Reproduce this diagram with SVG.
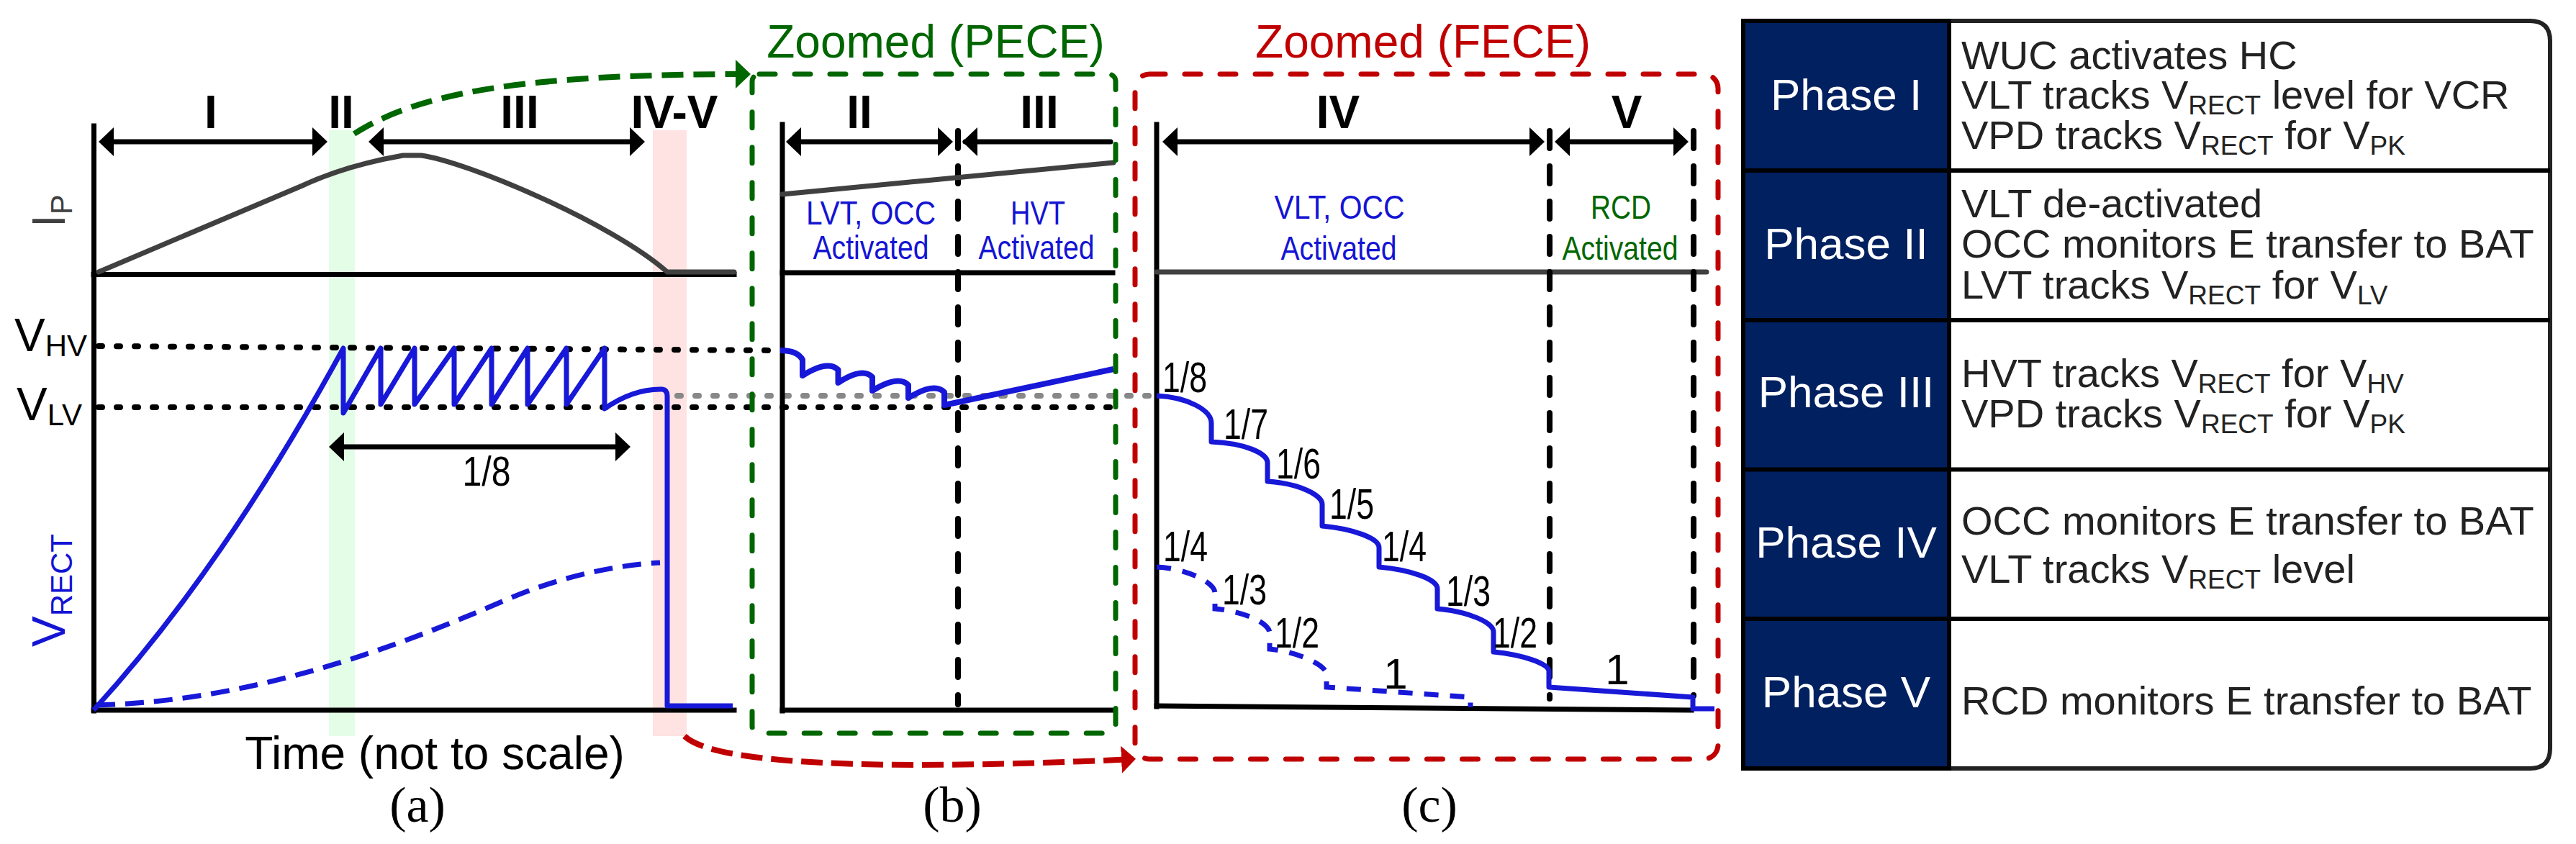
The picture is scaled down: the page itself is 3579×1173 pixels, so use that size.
<svg xmlns="http://www.w3.org/2000/svg" width="3579" height="1173" viewBox="0 0 3579 1173">
<style>
text{font-family:"Liberation Sans",Arial,sans-serif}
.ser{font-family:"Liberation Serif","Times New Roman",serif;font-size:70px;text-anchor:middle;fill:#000}
.ph{font-size:64px;font-weight:bold;text-anchor:middle;fill:#000}
.lab{font-size:64px;fill:#000}
.num{font-size:60px;fill:#000}
.act{font-size:46px;text-anchor:middle}
.blue{fill:#1414d4}
.grn{fill:#006600}
.axis{stroke:#000;stroke-width:7;fill:none;stroke-linecap:square}
.arr{stroke:#000;stroke-width:7;fill:none}
.dot{stroke:#000;stroke-width:8;stroke-dasharray:5 20;stroke-linecap:round;fill:none}
.gdot{stroke:#888;stroke-width:8;stroke-dasharray:5 20;stroke-linecap:round;fill:none}
.vdash{stroke:#000;stroke-width:8;stroke-dasharray:24 25;stroke-linecap:round;fill:none}
.ip{stroke:#404040;stroke-width:7;fill:none;stroke-linecap:round}
.wave{stroke:#1818d8;stroke-width:7;fill:none;stroke-linejoin:round}
.wdash{stroke:#1818d8;stroke-width:7;fill:none;stroke-dasharray:26 14}
.gbox{stroke:#006600;stroke-width:7;fill:none;stroke-dasharray:22 27;stroke-linecap:round}
.rbox{stroke:#c00000;stroke-width:7;fill:none;stroke-dasharray:22 27;stroke-linecap:round}
.pt{font-size:62px;fill:#fff;text-anchor:middle}
.rt{font-size:56px;fill:#222}
.sb{font-size:37px}
</style>
<defs>
<marker id="ah" viewBox="0 0 21 40" refX="17" refY="20" markerWidth="21" markerHeight="40" markerUnits="userSpaceOnUse" orient="auto-start-reverse"><path d="M0,0 L21,20 L0,40 Z" fill="#000"/></marker>
<marker id="ahg" viewBox="0 0 21 40" refX="18" refY="20" markerWidth="21" markerHeight="40" markerUnits="userSpaceOnUse" orient="auto"><path d="M0,0 L21,20 L0,40 Z" fill="#006600"/></marker>
<marker id="ahr" viewBox="0 0 20 38" refX="17" refY="19" markerWidth="20" markerHeight="38" markerUnits="userSpaceOnUse" orient="auto"><path d="M0,0 L20,19 L0,38 Z" fill="#c00000"/></marker>
</defs>
<rect width="3579" height="1173" fill="#fff"/>

<g id="panel-a">
<rect x="457" y="181" width="36" height="842" fill="#e4fde6"/>
<rect x="907" y="181" width="47" height="842" fill="#ffe2e2"/>
<line class="axis" x1="130.5" y1="175" x2="130.5" y2="988"/>
<line class="axis" x1="130" y1="381.5" x2="1020" y2="381.5"/>
<line class="axis" x1="130" y1="987" x2="1020" y2="987"/>
<line class="arr" x1="141" y1="197" x2="451" y2="197" marker-start="url(#ah)" marker-end="url(#ah)"/>
<line class="arr" x1="516" y1="197" x2="892" y2="197" marker-start="url(#ah)" marker-end="url(#ah)"/>
<text class="ph" x="293" y="178">I</text>
<text class="ph" x="474" y="178">II</text>
<text class="ph" x="722" y="178">III</text>
<text class="ph" x="937" y="178">IV-V</text>
<path class="ip" d="M137,378 L420,258 Q480,230 560,216 L585,216 C650,225 850,310 927,378 L1020,378"/>
<text transform="translate(90,316) rotate(-90)" style="font-size:64px;fill:#404040">I<tspan style="font-size:42px" dy="10">P</tspan></text>
<text class="lab" x="20" y="488">V<tspan style="font-size:42px" dy="7">HV</tspan></text>
<text class="lab" x="23" y="584">V<tspan style="font-size:42px" dy="7">LV</tspan></text>
<text transform="translate(90,899) rotate(-90)" style="font-size:64px" class="blue">V<tspan style="font-size:42px" dy="10">RECT</tspan></text>
<line class="dot" x1="137" y1="481" x2="1084" y2="487"/>
<line class="dot" x1="137" y1="566" x2="1547" y2="566"/>
<line class="gdot" x1="941" y1="550" x2="1607" y2="550"/>
<path class="wave" d="M130,987 Q310,790 477,484 V574 L529,484 V562 L576,484 V562 L631,484 V562 L683,484 V562 L733,484 V562 L787,484 V562 L840,484 V568 Q880,540 920,541 Q927,542 927,550 V981 H1018"/>
<path class="wdash" d="M134,980 C350,975 550,900 700,835 C780,800 860,785 917,782"/>
<line class="arr" x1="461" y1="621" x2="872" y2="621" marker-start="url(#ah)" marker-end="url(#ah)"/>
<text class="lab" style="font-size:58px;text-anchor:middle" x="676" y="675" textLength="67" lengthAdjust="spacingAndGlyphs">1/8</text>
<text class="lab" style="text-anchor:middle" x="604" y="1069">Time (not to scale)</text>
<text class="ser" x="580" y="1142">(a)</text>
</g>

<g id="panel-b">
<line class="axis" x1="1087" y1="173" x2="1087" y2="988"/>
<line class="axis" x1="1087" y1="379" x2="1546" y2="379"/>
<line class="axis" x1="1087" y1="987" x2="1546" y2="987"/>
<line class="vdash" x1="1331" y1="182" x2="1331" y2="979"/>
<line class="arr" x1="1096" y1="197" x2="1320" y2="197" marker-start="url(#ah)" marker-end="url(#ah)"/>
<line class="arr" x1="1341" y1="197" x2="1543" y2="197" marker-start="url(#ah)" style="stroke-linecap:round"/>
<text class="ph" x="1194" y="178">II</text>
<text class="ph" x="1444" y="178">III</text>
<line class="ip" x1="1087" y1="270" x2="1547" y2="226"/>
<text class="act blue" x="1210" y="312" textLength="180" lengthAdjust="spacingAndGlyphs">LVT, OCC</text>
<text class="act blue" x="1210" y="360" textLength="161" lengthAdjust="spacingAndGlyphs">Activated</text>
<text class="act blue" x="1442" y="312" textLength="76" lengthAdjust="spacingAndGlyphs">HVT</text>
<text class="act blue" x="1440" y="360" textLength="161" lengthAdjust="spacingAndGlyphs">Activated</text>
<path class="wave" style="stroke-width:8" d="M1084,487 Q1108,487 1115,500 V522 Q1150,500 1164.5,514 V532 Q1198,510 1212,524 V543 Q1248,521 1262,535 V553 Q1298,531 1312,545 V563 L1547,513"/>
<rect class="gbox" x="1045" y="103" width="505" height="916" rx="10"/>
<text style="font-size:64px;text-anchor:middle" class="grn" x="1300" y="80">Zoomed (PECE)</text>
<text class="ser" x="1323" y="1142">(b)</text>
</g>

<g id="panel-c">
<line class="axis" x1="1607" y1="173" x2="1607" y2="982"/>
<line class="axis" x1="1607" y1="981" x2="2350" y2="987"/>
<line class="ip" x1="1607" y1="378" x2="2371" y2="378"/>
<line class="vdash" x1="2153" y1="182" x2="2153" y2="971"/>
<line class="vdash" x1="2353" y1="182" x2="2353" y2="967"/>
<line class="arr" x1="1619" y1="197" x2="2142" y2="197" marker-start="url(#ah)" marker-end="url(#ah)"/>
<line class="arr" x1="2164" y1="197" x2="2342" y2="197" marker-start="url(#ah)" marker-end="url(#ah)"/>
<text class="ph" x="1859" y="178">IV</text>
<text class="ph" x="2260" y="178">V</text>
<text class="act blue" x="1861" y="304" textLength="181" lengthAdjust="spacingAndGlyphs">VLT, OCC</text>
<text class="act blue" x="1860" y="361" textLength="161" lengthAdjust="spacingAndGlyphs">Activated</text>
<text class="act grn" x="2252" y="304" textLength="84" lengthAdjust="spacingAndGlyphs">RCD</text>
<text class="act grn" x="2251" y="361" textLength="161" lengthAdjust="spacingAndGlyphs">Activated</text>
<path class="wave" d="M1607,550 C1650,552 1683,570 1683,588 V614 C1730,616 1761,630 1761,643 V669 C1805,672 1837,688 1837,701 V731 C1880,735 1916,748 1916,761 V788 C1960,792 1997,805 1997,818 V846 C2040,850 2075,865 2075,878 V906 C2115,910 2152,922 2152,933 V955 L2352,969 V985 H2382"/>
<path class="wdash" style="stroke-dasharray:20 16" d="M1607,788 C1650,790 1688,810 1688,824 V846 C1730,850 1764,866 1764,880 V902 C1805,906 1843,925 1843,937 V955 L2043,969 V983"/>
<text class="num" x="1615" y="545" textLength="62" lengthAdjust="spacingAndGlyphs">1/8</text>
<text class="num" x="1700" y="610" textLength="62" lengthAdjust="spacingAndGlyphs">1/7</text>
<text class="num" x="1773" y="665" textLength="62" lengthAdjust="spacingAndGlyphs">1/6</text>
<text class="num" x="1847" y="721" textLength="62" lengthAdjust="spacingAndGlyphs">1/5</text>
<text class="num" x="1920" y="780" textLength="62" lengthAdjust="spacingAndGlyphs">1/4</text>
<text class="num" x="2009" y="842" textLength="62" lengthAdjust="spacingAndGlyphs">1/3</text>
<text class="num" x="2074" y="900" textLength="62" lengthAdjust="spacingAndGlyphs">1/2</text>
<text class="num" style="text-anchor:middle" x="2247" y="951">1</text>
<text class="num" x="1616" y="780" textLength="62" lengthAdjust="spacingAndGlyphs">1/4</text>
<text class="num" x="1698" y="840" textLength="62" lengthAdjust="spacingAndGlyphs">1/3</text>
<text class="num" x="1771" y="900" textLength="62" lengthAdjust="spacingAndGlyphs">1/2</text>
<text class="num" style="text-anchor:middle" x="1939" y="957">1</text>
<rect class="rbox" x="1577" y="103" width="810" height="952" rx="20"/>
<text style="font-size:64px;text-anchor:middle;fill:#c00000" x="1977" y="80">Zoomed (FECE)</text>
<text class="ser" x="1986" y="1142">(c)</text>
</g>

<g id="connectors">
<path d="M492,186 C580,130 720,103 1040,103" fill="none" stroke="#006600" stroke-width="8" stroke-dasharray="30 14" marker-end="url(#ahg)"/>
<path d="M951,1023 C1000,1070 1300,1068 1575,1055" fill="none" stroke="#c00000" stroke-width="8" stroke-dasharray="30 12" marker-end="url(#ahr)"/>
</g>

<g id="table">
<path d="M2422,29 H3515 Q3543,29 3543,57 V1040 Q3543,1068 3515,1068 H2422 Z" fill="#fff" stroke="#222" stroke-width="6"/>
<rect x="2422" y="29" width="286" height="1039" fill="#002060" stroke="#000" stroke-width="6"/>
<g stroke="#000" stroke-width="6">
<line x1="2422" y1="237" x2="3543" y2="237"/>
<line x1="2422" y1="445" x2="3543" y2="445"/>
<line x1="2422" y1="652.5" x2="3543" y2="652.5"/>
<line x1="2422" y1="860" x2="3543" y2="860"/>
</g>
<g id="row-1">
<text class="pt" x="2565" y="153">Phase I</text>
<text class="rt" x="2725" y="96">WUC activates HC</text>
<text class="rt" x="2725" y="151">VLT tracks V<tspan class="sb" dy="8">RECT</tspan><tspan dy="-8"> level for VCR</tspan></text>
<text class="rt" x="2725" y="207">VPD tracks V<tspan class="sb" dy="8">RECT</tspan><tspan dy="-8"> for V</tspan><tspan class="sb" dy="8">PK</tspan></text>
</g>
<g id="row-2">
<text class="pt" x="2565" y="360">Phase II</text>
<text class="rt" x="2725" y="302">VLT de-activated</text>
<text class="rt" x="2725" y="358">OCC monitors E transfer to BAT</text>
<text class="rt" x="2725" y="415">LVT tracks V<tspan class="sb" dy="8">RECT</tspan><tspan dy="-8"> for V</tspan><tspan class="sb" dy="8">LV</tspan></text>
</g>
<g id="row-3">
<text class="pt" x="2565" y="566">Phase III</text>
<text class="rt" x="2725" y="538">HVT tracks V<tspan class="sb" dy="8">RECT</tspan><tspan dy="-8"> for V</tspan><tspan class="sb" dy="8">HV</tspan></text>
<text class="rt" x="2725" y="594">VPD tracks V<tspan class="sb" dy="8">RECT</tspan><tspan dy="-8"> for V</tspan><tspan class="sb" dy="8">PK</tspan></text>
</g>
<g id="row-4">
<text class="pt" x="2565" y="775">Phase IV</text>
<text class="rt" x="2725" y="743">OCC monitors E transfer to BAT</text>
<text class="rt" x="2725" y="810">VLT tracks V<tspan class="sb" dy="8">RECT</tspan><tspan dy="-8"> level</tspan></text>
</g>
<g id="row-5">
<text class="pt" x="2565" y="983">Phase V</text>
<text class="rt" x="2725" y="993">RCD monitors E transfer to BAT</text>
</g>
</g>
</svg>
